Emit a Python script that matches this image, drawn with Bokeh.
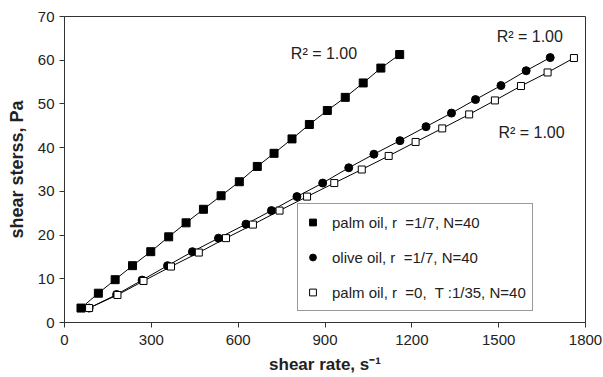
from bokeh.plotting import figure
from bokeh.models import Range1d, FixedTicker, Legend, LegendItem
from bokeh.core.properties import value
from bokeh.embed import file_html
from bokeh.resources import INLINE

# Shear stress vs shear rate for the three oil samples
palm_rate = [57, 117, 175, 235, 298, 360, 420, 480, 541, 604, 666, 724, 786, 846, 908, 970, 1032, 1093, 1158]
palm_stress = [3.3, 6.7, 9.8, 13.0, 16.2, 19.6, 22.8, 25.9, 29.0, 32.2, 35.7, 38.7, 42.0, 45.3, 48.5, 51.5, 54.8, 58.2, 61.3]

olive_rate = [85, 180, 268, 356, 442, 532, 627, 715, 803, 892, 982, 1069, 1159, 1249, 1337, 1420, 1508, 1595, 1678]
olive_stress = [3.3, 6.4, 9.7, 13.0, 16.2, 19.3, 22.5, 25.6, 28.8, 31.9, 35.4, 38.5, 41.6, 44.8, 47.9, 51.0, 54.2, 57.6, 60.6]

palm0_rate = [85, 183, 273, 368, 464, 558, 651, 743, 838, 932, 1027, 1120, 1213, 1305, 1398, 1487, 1577, 1669, 1760]
palm0_stress = [3.3, 6.3, 9.5, 12.8, 16.0, 19.3, 22.4, 25.6, 28.8, 31.9, 35.0, 38.1, 41.3, 44.4, 47.6, 50.8, 54.1, 57.2, 60.5]

series_labels = [
    "palm oil, r\u00a0 =1/7, N=40",
    "olive oil, r\u00a0 =1/7, N=40",
    "palm oil, r\u00a0 =0,\u00a0 T :1/35, N=40",
]

r2_text = ["R\u00b2 = 1.00", "R\u00b2 = 1.00", "R\u00b2 = 1.00"]
r2_x = [782, 1493, 1499]
r2_y = [61.5, 65.4, 43.5]

x_ticks = [0, 300, 600, 900, 1200, 1500, 1800]
y_ticks = [0, 10, 20, 30, 40, 50, 60, 70]

FONT = "Liberation Sans"
AXIS_COLOR = "#333333"
TEXT_COLOR = "#222222"

p = figure(
    width=603, height=377,
    x_range=Range1d(0, 1800), y_range=Range1d(0, 70),
    output_backend="svg", toolbar_location=None,
    min_border_left=64, min_border_right=18, min_border_top=16, min_border_bottom=55,
)
p.xgrid.visible = False
p.ygrid.visible = False
p.outline_line_color = AXIS_COLOR
p.outline_line_width = 1
p.background_fill_color = "white"
p.border_fill_color = "white"

for ax, ticks in ((p.xaxis[0], x_ticks), (p.yaxis[0], y_ticks)):
    ax.ticker = FixedTicker(ticks=ticks)
    ax.minor_tick_line_color = None
    ax.major_tick_in = 0
    ax.major_tick_out = 5
    ax.major_tick_line_color = AXIS_COLOR
    ax.axis_line_color = AXIS_COLOR
    ax.major_label_text_font = FONT
    ax.major_label_text_font_size = "15px"
    ax.major_label_text_color = TEXT_COLOR
    ax.axis_label_text_font = FONT
    ax.axis_label_text_font_style = "bold"
    ax.axis_label_text_color = TEXT_COLOR

p.xaxis.major_label_standoff = 7
p.yaxis.major_label_standoff = 5
p.xaxis.axis_label = "shear rate, s\u207b\u00b9"
p.xaxis.axis_label_text_font_size = "17px"
p.xaxis.axis_label_standoff = 7
p.yaxis.axis_label = "shear sterss, Pa"
p.yaxis.axis_label_text_font_size = "18px"
p.yaxis.axis_label_standoff = 8

# connecting lines
p.line(palm_rate, palm_stress, line_color="black", line_width=1)
p.line(olive_rate, olive_stress, line_color="black", line_width=1)
p.line(palm0_rate, palm0_stress, line_color="black", line_width=1)

# markers
r_palm = p.scatter(palm_rate, palm_stress, marker="square", size=8,
                   fill_color="black", line_color="black")
r_olive = p.scatter(olive_rate, olive_stress, marker="circle", size=8,
                    fill_color="black", line_color="black")
r_palm0 = p.scatter(palm0_rate, palm0_stress, marker="square", size=7,
                    fill_color="white", line_color="black", line_width=1)

p.text(r2_x, r2_y, text=r2_text, text_font=value(FONT), text_font_size="16px",
       text_color=TEXT_COLOR, text_baseline="alphabetic", text_align="left")

legend = Legend(
    items=[
        LegendItem(label=series_labels[0], renderers=[r_palm]),
        LegendItem(label=series_labels[1], renderers=[r_olive]),
        LegendItem(label=series_labels[2], renderers=[r_palm0]),
    ],
    location=(233, 11),
    orientation="vertical",
    glyph_width=17, glyph_height=24, label_height=24,
    spacing=11, padding=6, margin=0, label_standoff=11,
    label_text_font=FONT, label_text_font_size="15px", label_text_color=TEXT_COLOR,
    border_line_color=AXIS_COLOR, border_line_width=1,
    background_fill_color="white", background_fill_alpha=1,
)
p.add_layout(legend, "center")

open("out.html", "w").write(file_html(p, INLINE))
